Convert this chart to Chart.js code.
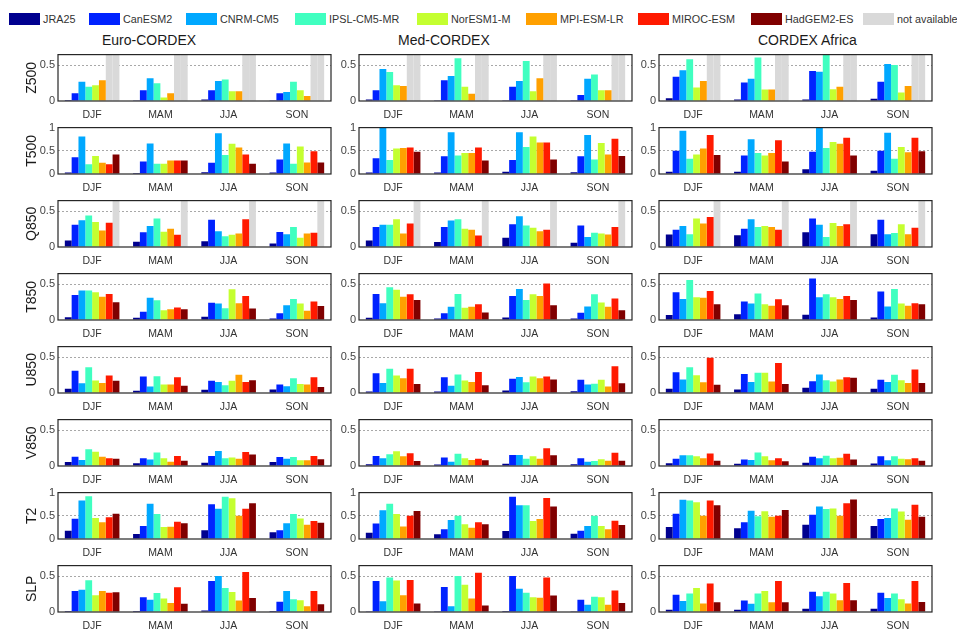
<!DOCTYPE html>
<html>
<head>
<meta charset="utf-8">
<script src="https://cdn.jsdelivr.net/npm/chart.js@4.4.1/dist/chart.umd.min.js"></script>
<style>
  html, body { margin: 0; padding: 0; background: #fff; }
  #fig { position: relative; width: 957px; height: 630px; overflow: hidden;
         font-family: 'Liberation Sans', Arial, sans-serif; }
  .key { position: absolute; top: 13px; width: 31px; height: 12px; }
  .keytext { position: absolute; top: 13px; line-height: 12px; font-size: 10.8px; color: #333; white-space: nowrap; }
  .region { position: absolute; top: 32px; line-height: 16px; font-size: 14px; color: #1a1a1a; white-space: nowrap; }
  canvas { position: absolute; }
</style>
</head>
<body>
<div id="fig"></div>
<script>
// ---- categories, series and tick labels ----
const seasons = ['DJF', 'MAM', 'JJA', 'SON'];
const models = ['JRA25', 'CanESM2', 'CNRM-CM5', 'IPSL-CM5-MR', 'NorESM1-M', 'MPI-ESM-LR', 'MIROC-ESM', 'HadGEM2-ES'];
const modelColors = ['#00008f', '#0022ff', '#00a8ff', '#40ffc0', '#c4ff30', '#ffa000', '#ff1a00', '#800000'];
const naLabel = 'not available';
const naColor = '#d9d9d9';
const regions = ['Euro-CORDEX', 'Med-CORDEX', 'CORDEX Africa'];
const variables = ['Z500', 'T500', 'Q850', 'T850', 'U850', 'V850', 'T2', 'SLP'];
const halfTicks = [0, 0.5];
const unitTicks = [0, 0.5, 1];

// ---- values: one row per season (DJF, MAM, JJA, SON), one column per model; null = not available ----
const euroZ500 = [
  [0.015, 0.11, 0.27, 0.20, 0.22, 0.29, null, null],
  [0.01, 0.15, 0.32, 0.25, 0.05, 0.11, null, null],
  [0.02, 0.15, 0.28, 0.30, 0.135, 0.135, null, null],
  [0.01, 0.11, 0.125, 0.27, 0.15, 0.07, null, null]];
const medZ500 = [
  [0.02, 0.15, 0.45, 0.405, 0.22, 0.21, null, null],
  [0.01, 0.29, 0.35, 0.60, 0.20, 0.10, null, null],
  [0.01, 0.20, 0.28, 0.56, 0.135, 0.32, null, null],
  [0.01, 0.085, 0.31, 0.37, 0.15, 0.15, null, null]];
const afrZ500 = [
  [0.04, 0.34, 0.43, 0.585, 0.19, 0.28, null, null],
  [0.02, 0.26, 0.31, 0.61, 0.16, 0.16, null, null],
  [0.02, 0.42, 0.41, 0.66, 0.165, 0.20, null, null],
  [0.03, 0.27, 0.52, 0.505, 0.12, 0.21, null, null]];

const euroT500 = [
  [0.03, 0.36, 0.81, 0.21, 0.39, 0.24, 0.21, 0.42],
  [0.02, 0.27, 0.66, 0.22, 0.22, 0.29, 0.29, 0.29],
  [0.04, 0.24, 0.88, 0.41, 0.65, 0.57, 0.42, 0.22],
  [0.03, 0.31, 0.66, 0.22, 0.59, 0.25, 0.49, 0.25]];
const medT500 = [
  [0.03, 0.34, 1.0, 0.30, 0.55, 0.56, 0.57, 0.48],
  [0.03, 0.38, 0.90, 0.40, 0.45, 0.45, 0.57, 0.29],
  [0.05, 0.30, 0.90, 0.58, 0.81, 0.68, 0.68, 0.31],
  [0.04, 0.38, 0.84, 0.31, 0.67, 0.42, 0.76, 0.39]];
const afrT500 = [
  [0.05, 0.50, 0.93, 0.33, 0.42, 0.55, 0.84, 0.41],
  [0.05, 0.40, 0.75, 0.45, 0.40, 0.45, 0.73, 0.27],
  [0.10, 0.48, 1.0, 0.56, 0.69, 0.65, 0.78, 0.40],
  [0.07, 0.50, 0.89, 0.33, 0.58, 0.47, 0.78, 0.49]];

const euroQ850 = [
  [0.09, 0.31, 0.375, 0.44, 0.35, 0.23, 0.34, null],
  [0.075, 0.205, 0.295, 0.40, 0.215, 0.255, 0.17, null],
  [0.08, 0.38, 0.22, 0.15, 0.17, 0.19, 0.39, null],
  [0.05, 0.21, 0.18, 0.28, 0.13, 0.19, 0.20, null]];
const medQ850 = [
  [0.09, 0.28, 0.31, 0.31, 0.39, 0.19, 0.33, null],
  [0.07, 0.28, 0.37, 0.39, 0.255, 0.24, 0.16, null],
  [0.13, 0.32, 0.43, 0.30, 0.27, 0.22, 0.24, null],
  [0.06, 0.30, 0.14, 0.20, 0.19, 0.175, 0.28, null]];
const afrQ850 = [
  [0.175, 0.24, 0.295, 0.18, 0.40, 0.33, 0.42, null],
  [0.165, 0.255, 0.39, 0.28, 0.295, 0.28, 0.24, null],
  [0.205, 0.40, 0.31, 0.14, 0.335, 0.295, 0.32, null],
  [0.18, 0.38, 0.18, 0.195, 0.32, 0.18, 0.27, null]];

const euroT850 = [
  [0.04, 0.35, 0.415, 0.415, 0.39, 0.325, 0.365, 0.25],
  [0.03, 0.115, 0.31, 0.275, 0.135, 0.15, 0.175, 0.15],
  [0.045, 0.24, 0.23, 0.165, 0.43, 0.235, 0.335, 0.16],
  [0.02, 0.095, 0.205, 0.295, 0.23, 0.13, 0.26, 0.195]];
const medT850 = [
  [0.03, 0.365, 0.235, 0.46, 0.425, 0.325, 0.36, 0.28],
  [0.02, 0.095, 0.185, 0.365, 0.17, 0.185, 0.22, 0.105],
  [0.035, 0.335, 0.435, 0.28, 0.36, 0.335, 0.51, 0.205],
  [0.02, 0.10, 0.19, 0.36, 0.245, 0.185, 0.30, 0.135]];
const afrT850 = [
  [0.07, 0.39, 0.295, 0.56, 0.32, 0.31, 0.405, 0.22],
  [0.08, 0.26, 0.23, 0.37, 0.22, 0.20, 0.29, 0.205],
  [0.075, 0.58, 0.32, 0.36, 0.32, 0.295, 0.335, 0.28],
  [0.035, 0.40, 0.19, 0.435, 0.23, 0.20, 0.235, 0.22]];

const euroU850 = [
  [0.06, 0.31, 0.135, 0.36, 0.175, 0.14, 0.245, 0.17],
  [0.03, 0.23, 0.09, 0.235, 0.12, 0.12, 0.22, 0.10],
  [0.045, 0.17, 0.155, 0.11, 0.17, 0.255, 0.155, 0.18],
  [0.05, 0.12, 0.095, 0.205, 0.125, 0.12, 0.22, 0.085]];
const medU850 = [
  [0.02, 0.275, 0.14, 0.34, 0.245, 0.205, 0.34, 0.125],
  [0.02, 0.22, 0.10, 0.26, 0.175, 0.155, 0.295, 0.11],
  [0.035, 0.20, 0.225, 0.15, 0.23, 0.205, 0.23, 0.19],
  [0.025, 0.185, 0.12, 0.13, 0.185, 0.09, 0.375, 0.135]];
const afrU850 = [
  [0.06, 0.29, 0.19, 0.36, 0.25, 0.15, 0.495, 0.115],
  [0.05, 0.265, 0.155, 0.285, 0.285, 0.16, 0.42, 0.125],
  [0.075, 0.165, 0.26, 0.18, 0.16, 0.19, 0.22, 0.215],
  [0.06, 0.185, 0.155, 0.255, 0.18, 0.14, 0.33, 0.14]];

const euroV850 = [
  [0.055, 0.13, 0.085, 0.235, 0.20, 0.13, 0.11, 0.10],
  [0.04, 0.11, 0.09, 0.19, 0.11, 0.06, 0.14, 0.075],
  [0.045, 0.14, 0.21, 0.11, 0.12, 0.10, 0.195, 0.16],
  [0.055, 0.125, 0.10, 0.125, 0.08, 0.08, 0.14, 0.095]];
const medV850 = [
  [0.025, 0.14, 0.11, 0.165, 0.205, 0.135, 0.18, 0.07],
  [0.02, 0.12, 0.06, 0.17, 0.11, 0.085, 0.10, 0.08],
  [0.03, 0.155, 0.155, 0.10, 0.135, 0.10, 0.25, 0.15],
  [0.025, 0.11, 0.06, 0.07, 0.095, 0.075, 0.185, 0.075]];
const afrV850 = [
  [0.04, 0.10, 0.15, 0.15, 0.135, 0.11, 0.175, 0.075],
  [0.03, 0.09, 0.085, 0.19, 0.135, 0.08, 0.11, 0.065],
  [0.045, 0.13, 0.11, 0.145, 0.11, 0.115, 0.17, 0.09],
  [0.035, 0.135, 0.08, 0.135, 0.10, 0.095, 0.11, 0.075]];

const euroT2 = [
  [0.18, 0.435, 0.83, 0.92, 0.455, 0.36, 0.47, 0.545],
  [0.11, 0.28, 0.76, 0.54, 0.26, 0.265, 0.37, 0.34],
  [0.19, 0.75, 0.65, 0.91, 0.88, 0.50, 0.65, 0.77],
  [0.145, 0.19, 0.34, 0.54, 0.44, 0.305, 0.39, 0.35]];
const medT2 = [
  [0.135, 0.335, 0.62, 0.76, 0.54, 0.27, 0.50, 0.605],
  [0.10, 0.21, 0.41, 0.50, 0.32, 0.24, 0.36, 0.32],
  [0.17, 0.91, 0.73, 0.73, 0.39, 0.43, 0.885, 0.70],
  [0.115, 0.18, 0.28, 0.50, 0.28, 0.21, 0.395, 0.30]];
const afrT2 = [
  [0.26, 0.545, 0.845, 0.83, 0.79, 0.50, 0.83, 0.73],
  [0.23, 0.36, 0.61, 0.49, 0.60, 0.48, 0.50, 0.625],
  [0.305, 0.52, 0.70, 0.645, 0.66, 0.50, 0.77, 0.85],
  [0.28, 0.43, 0.455, 0.66, 0.59, 0.415, 0.74, 0.48]];

const euroSLP = [
  [0.015, 0.295, 0.31, 0.445, 0.235, 0.295, 0.27, 0.275],
  [0.015, 0.205, 0.17, 0.265, 0.19, 0.125, 0.345, 0.115],
  [0.02, 0.435, 0.505, 0.335, 0.28, 0.16, 0.56, 0.195],
  [0.015, 0.145, 0.295, 0.18, 0.165, 0.08, 0.295, 0.11]];
const medSLP = [
  [0.01, 0.435, 0.15, 0.485, 0.44, 0.235, 0.45, 0.12],
  [0.01, 0.35, 0.08, 0.505, 0.38, 0.19, 0.55, 0.09],
  [0.015, 0.505, 0.325, 0.27, 0.205, 0.20, 0.485, 0.23],
  [0.01, 0.17, 0.10, 0.215, 0.205, 0.10, 0.30, 0.125]];
const afrSLP = [
  [0.03, 0.24, 0.155, 0.26, 0.335, 0.12, 0.40, 0.135],
  [0.03, 0.16, 0.115, 0.26, 0.295, 0.135, 0.435, 0.135],
  [0.045, 0.285, 0.22, 0.285, 0.26, 0.165, 0.405, 0.165],
  [0.045, 0.27, 0.195, 0.26, 0.18, 0.12, 0.435, 0.14]];

// one figure row per variable: axis top, tick labels and the three regional panels
const figureRows = [
  { max: 0.65, ticks: halfTicks, panels: [euroZ500, medZ500, afrZ500] },
  { max: 1,    ticks: unitTicks, panels: [euroT500, medT500, afrT500] },
  { max: 0.65, ticks: halfTicks, panels: [euroQ850, medQ850, afrQ850] },
  { max: 0.65, ticks: halfTicks, panels: [euroT850, medT850, afrT850] },
  { max: 0.65, ticks: halfTicks, panels: [euroU850, medU850, afrU850] },
  { max: 0.65, ticks: halfTicks, panels: [euroV850, medV850, afrV850] },
  { max: 1,    ticks: unitTicks, panels: [euroT2, medT2, afrT2] },
  { max: 0.65, ticks: halfTicks, panels: [euroSLP, medSLP, afrSLP] }
];

// ---- page layout ----
const FONT = "'Liberation Sans', Arial, sans-serif";
const plotLeft = [58, 359, 659];
const plotWidth = 273;
const plotTop0 = 53;
const rowStep = 73;
const plotHeight = 48;
const keyLeft = [9, 89, 186, 295, 417, 526, 638, 751, 863];
const regionLeft = [102, 398, 758];

Chart.defaults.font.family = FONT;
const fig = document.getElementById('fig');

// legend across the top
const keyNames = models.concat([naLabel]);
const keyColors = modelColors.concat([naColor]);
keyNames.forEach((name, i) => {
  const box = document.createElement('div');
  box.className = 'key';
  box.style.left = keyLeft[i] + 'px';
  box.style.background = keyColors[i];
  fig.appendChild(box);
  const txt = document.createElement('div');
  txt.className = 'keytext';
  txt.style.left = (keyLeft[i] + 34) + 'px';
  txt.textContent = name;
  fig.appendChild(txt);
});

// region headings
regions.forEach((name, i) => {
  const d = document.createElement('div');
  d.className = 'region';
  d.style.left = regionLeft[i] + 'px';
  d.textContent = name;
  fig.appendChild(d);
});

// frame around each plotting area
const framePlugin = {
  id: 'frame',
  afterDatasetsDraw(chart) {
    const { ctx, chartArea: a } = chart;
    ctx.save();
    ctx.strokeStyle = '#262626';
    ctx.lineWidth = 1.2;
    ctx.strokeRect(a.left, a.top, a.right - a.left, a.bottom - a.top);
    ctx.restore();
  }
};

function makePanel(row, values, r, c) {
  const yW = c === 0 ? 38 : 30;
  const padT = 8, padR = 8, xH = 20;
  const cv = document.createElement('canvas');
  cv.width = yW + plotWidth + padR;
  cv.height = padT + plotHeight + xH;
  cv.style.left = (plotLeft[c] - yW) + 'px';
  cv.style.top = (plotTop0 + rowStep * r - padT) + 'px';
  fig.appendChild(cv);

  const barShape = { categoryPercentage: 0.8, barPercentage: 1, borderWidth: 0 };
  const datasets = models.map((m, k) => Object.assign({
    label: m,
    data: values.map(s => s[k]),
    backgroundColor: modelColors[k],
    stack: m
  }, barShape));
  // missing models are flagged by a full-height grey bar in their slot
  [6, 7].forEach(k => datasets.push(Object.assign({
    label: naLabel,
    data: values.map(s => (s[k] === null ? row.max : null)),
    backgroundColor: naColor,
    stack: models[k]
  }, barShape)));

  new Chart(cv, {
    type: 'bar',
    data: { labels: seasons, datasets },
    options: {
      responsive: false,
      animation: false,
      devicePixelRatio: 1,
      layout: { padding: { top: padT, right: padR, left: 0, bottom: 0 } },
      plugins: { legend: { display: false }, tooltip: { enabled: false } },
      scales: {
        x: {
          stacked: true,
          grid: { display: false, drawTicks: false },
          border: { display: false },
          ticks: { color: '#333', font: { size: 10.5 }, padding: 8, maxRotation: 0, autoSkip: false },
          afterFit: s => { s.height = xH; }
        },
        y: {
          stacked: true,
          min: 0,
          max: row.max,
          afterBuildTicks: s => { s.ticks = row.ticks.map(v => ({ value: v })); },
          ticks: { color: '#444', font: { size: 11 }, padding: 3, callback: v => String(v) },
          grid: {
            drawTicks: false,
            lineWidth: 1,
            color: ctx => (ctx.tick && ctx.tick.value === 0.5 ? '#a8a8a8' : 'rgba(0,0,0,0)')
          },
          border: { display: false, dash: [2, 2] },
          title: {
            display: c === 0,
            text: variables[r],
            color: '#1a1a1a',
            font: { size: 14 },
            padding: { top: 4, bottom: 4 }
          },
          afterFit: s => { s.width = yW; }
        }
      }
    },
    plugins: [framePlugin]
  });
}

figureRows.forEach((row, r) => row.panels.forEach((values, c) => makePanel(row, values, r, c)));
</script>
</body>
</html>
